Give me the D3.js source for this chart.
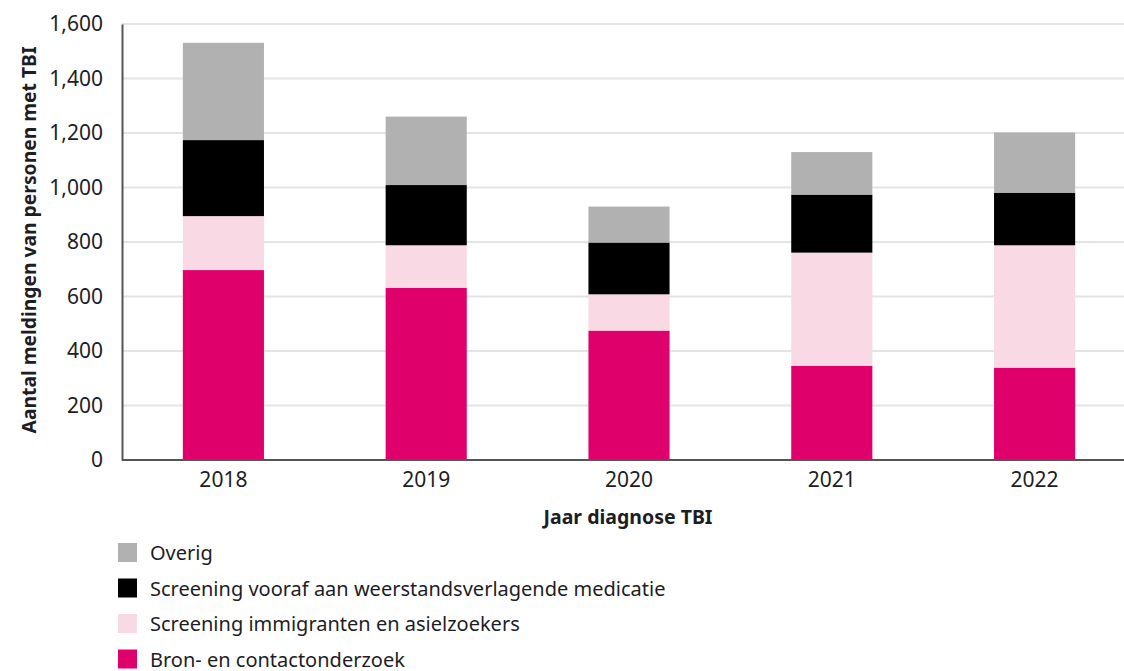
<!DOCTYPE html>
<html>
<head>
<meta charset="UTF-8" />
<title>Meldingen TBI</title>
<style>
	html, body {
		margin: 0;
		padding: 0;
		background: #fff;
		overflow: hidden;
		font-family: "Noto Sans", sans-serif;
	}
	text {
		fill: #1d1d24;
	}
	.grid line {
		stroke: #e4e4e4;
		stroke-width: 2px;
	}
</style>
<script src="https://d3js.org/d3.v7.min.js"></script>
</head>
<body>
<svg></svg>
<script>
	// data
	let years = ['2018', '2019', '2020', '2021', '2022'];
	let bron = [697, 632, 475, 346, 339];
	let immigranten = [198, 156, 133, 415, 449];
	let medicatie = [279, 221, 190, 213, 193];
	let overig = [357, 251, 132, 156, 221];

	let seriesNames = ['Bron- en contactonderzoek', 'Screening immigranten en asielzoekers', 'Screening vooraf aan weerstandsverlagende medicatie', 'Overig'];
	let seriesColors = ['#e0006b', '#f8d9e4', '#000000', '#b1b1b1'];
	let yTicks = [0, 200, 400, 600, 800, 1000, 1200, 1400, 1600];

	let width = 1124;
	let height = 671;

	let svg = d3.select('svg')
		.attr('width', width)
		.attr('height', height)
		.style('display', 'block');

	let x = d3.scaleBand()
		.domain(years)
		.range([122, 1136])
		.paddingInner(0.6)
		.paddingOuter(0.3);

	let y = d3.scaleLinear()
		.domain([0, 1600])
		.range([460, 24]);

	// one row per year for the stack
	let rows = years.map((yr, i) => ({
		year: yr,
		s0: bron[i],
		s1: immigranten[i],
		s2: medicatie[i],
		s3: overig[i]
	}));
	let stack = d3.stack().keys(['s0', 's1', 's2', 's3'])(rows);

	// gridlines
	svg.append('g')
		.attr('class', 'grid')
		.selectAll('line')
		.data(yTicks.filter(d => d > 0))
		.enter().append('line')
		.attr('x1', 122)
		.attr('x2', width)
		.attr('y1', d => y(d))
		.attr('y2', d => y(d));

	// bars
	svg.append('g')
		.selectAll('g')
		.data(stack)
		.enter().append('g')
		.attr('fill', (d, i) => seriesColors[i])
		.selectAll('rect')
		.data(d => d)
		.enter().append('rect')
		.attr('x', d => x(d.data.year))
		.attr('width', x.bandwidth())
		.attr('y', d => y(d[1]))
		.attr('height', d => y(d[0]) - y(d[1]));

	// y axis
	let yAxis = svg.append('g')
		.attr('transform', 'translate(122,0)')
		.call(d3.axisLeft(y).tickValues(yTicks).tickSize(0).tickPadding(19).tickFormat(d3.format(',')));
	yAxis.select('.domain').attr('stroke', '#555').attr('stroke-width', 2);
	yAxis.selectAll('text').attr('font-size', 21).attr('font-family', '"Noto Sans", sans-serif').attr('fill', '#1d1d24');

	// x axis
	let xAxis = svg.append('g')
		.attr('transform', 'translate(0,460)')
		.call(d3.axisBottom(x).tickSize(0).tickPadding(12));
	xAxis.select('.domain').attr('d', 'M122,0H' + width).attr('stroke', '#555').attr('stroke-width', 2);
	xAxis.selectAll('text').attr('font-size', 21).attr('font-family', '"Noto Sans", sans-serif').attr('fill', '#1d1d24');

	// axis titles
	svg.append('text')
		.attr('transform', 'translate(36,240) rotate(-90)')
		.attr('text-anchor', 'middle')
		.attr('font-size', 19.3)
		.attr('font-weight', 'bold')
		.text('Aantal meldingen van personen met TBI');

	svg.append('text')
		.attr('x', 628)
		.attr('y', 524)
		.attr('text-anchor', 'middle')
		.attr('font-size', 19.5)
		.attr('font-weight', 'bold')
		.text('Jaar diagnose TBI');

	// legend, Overig on top
	let legend = svg.append('g')
		.selectAll('g')
		.data(d3.range(seriesNames.length).reverse())
		.enter().append('g')
		.attr('transform', (d, i) => `translate(118,${543 + i * 35.5})`);

	legend.append('rect')
		.attr('width', 19)
		.attr('height', 19)
		.attr('fill', d => seriesColors[d]);

	legend.append('text')
		.attr('x', 32)
		.attr('y', 17)
		.attr('font-size', 20)
		.text(d => seriesNames[d]);
</script>
</body>
</html>
